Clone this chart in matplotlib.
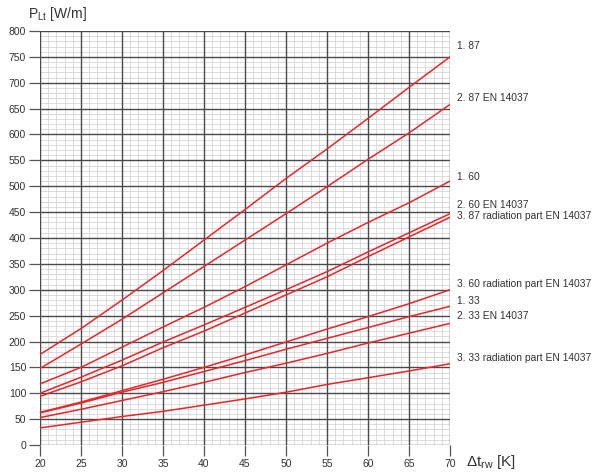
import numpy as np
import matplotlib
matplotlib.use('Agg')
import matplotlib.pyplot as plt
from matplotlib.ticker import MultipleLocator

plt.rcParams['font.family'] = ['Liberation Sans', 'DejaVu Sans']

dt = [20, 25, 30, 35, 40, 45, 50, 55, 60, 65, 70]

p_1_87 = [175, 225, 280, 337, 396, 455, 515, 572, 631, 691, 750]
p_2_87 = [148, 195, 243, 294, 345, 396, 447, 499, 552, 603, 658]
p_1_60 = [118, 150, 189, 228, 266, 306, 348, 390, 430, 468, 510]
p_2_60 = [100, 131, 164, 199, 232, 266, 300, 335, 373, 410, 447]
p_3_87 = [94, 122, 153, 188, 220, 255, 290, 325, 364, 402, 440]
p_3_60 = [63, 83, 105, 127, 150, 174, 199, 224, 248, 273, 300]
p_1_33 = [62, 81, 102, 121, 142, 163, 185, 206, 227, 248, 268]
p_2_33 = [53, 69, 86, 103, 121, 140, 158, 177, 197, 216, 235]
p_3_33 = [33, 44, 55, 65, 77, 89, 102, 117, 130, 143, 157]

series = [p_1_87, p_2_87, p_1_60, p_2_60, p_3_87, p_3_60, p_1_33, p_2_33, p_3_33]
names = ['1. 87', '2. 87 EN 14037', '1. 60', '2. 60 EN 14037',
         '3. 87 radiation part EN 14037', '3. 60 radiation part EN 14037',
         '1. 33', '2. 33 EN 14037', '3. 33 radiation part EN 14037']
# label heights (in W/m) on the right side
label_y = [771, 671, 518, 464, 442, 311, 278, 250, 169]

fig = plt.figure(figsize=(6, 4.73), dpi=100)
ax = fig.add_axes([40/600, 1 - 445/473, 410/600, 414/473])

ax.set_xlim(20, 70)
ax.set_ylim(0, 800)
ax.xaxis.set_major_locator(MultipleLocator(5))
ax.yaxis.set_major_locator(MultipleLocator(50))

# minor grid first, then the major grid on top
for xv in np.arange(20, 71, 1):
    ax.axvline(xv, color='#d6d6d6', lw=0.6, zorder=0.5)
for yv in np.arange(0, 801, 10):
    ax.axhline(yv, color='#d6d6d6', lw=0.6, zorder=0.5)
for xv in np.arange(20, 71, 5):
    ax.axvline(xv, color='#4a4a4a', lw=1.0, zorder=1)
for yv in np.arange(0, 801, 50):
    ax.axhline(yv, color='#4a4a4a', lw=1.0, zorder=1)

for s in ax.spines.values():
    s.set_visible(False)

ax.tick_params(which='major', length=8, width=0.9, color='#555555',
               labelsize=7.5, labelcolor='#333333', pad=2)

for ys in series:
    ax.plot(dt, ys, color='#e8262a', lw=1.1, zorder=3)

for name, ly in zip(names, label_y):
    ax.text(70.85, ly, name, fontsize=7.4, color='#333333', va='center',
            ha='left', clip_on=False)

fig.text(28/600, 1 - 14/473, r'P$_{\mathregular{Lt}}$ [W/m]', fontsize=10,
         color='#333333', va='center', ha='left')
fig.text(466/600, 1 - 462/473, r'$\mathregular{\Delta}$t$_{\mathregular{rw}}$ [K]',
         fontsize=11, color='#333333', va='center', ha='left')

fig.savefig('out.png', dpi=100)
